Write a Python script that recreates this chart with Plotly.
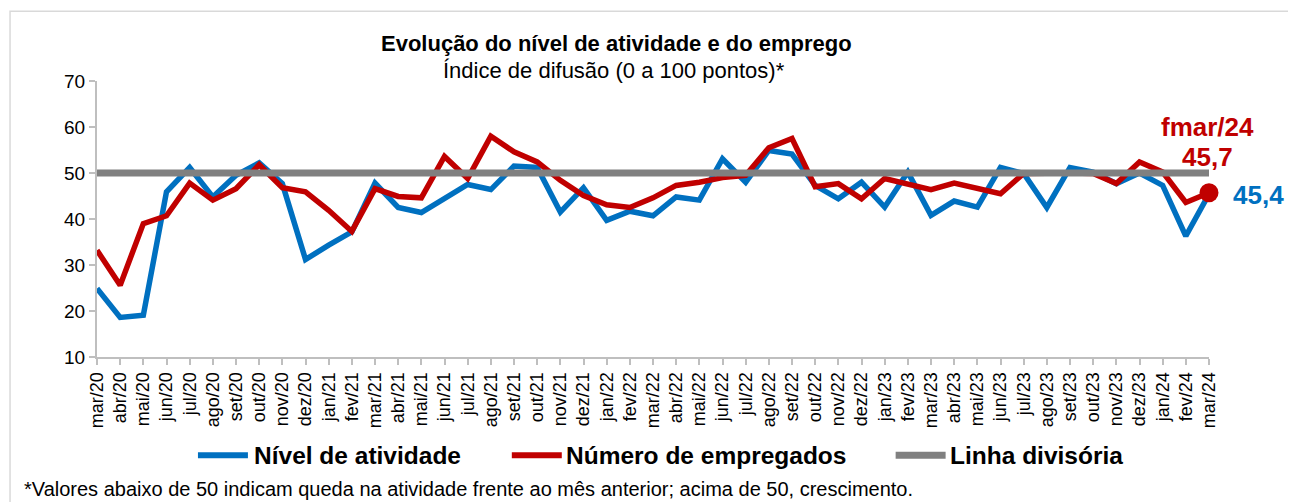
import plotly.graph_objects as go

months = ["mar/20","abr/20","mai/20","jun/20","jul/20","ago/20","set/20","out/20","nov/20","dez/20",
          "jan/21","fev/21","mar/21","abr/21","mai/21","jun/21","jul/21","ago/21","set/21","out/21","nov/21","dez/21",
          "jan/22","fev/22","mar/22","abr/22","mai/22","jun/22","jul/22","ago/22","set/22","out/22","nov/22","dez/22",
          "jan/23","fev/23","mar/23","abr/23","mai/23","jun/23","jul/23","ago/23","set/23","out/23","nov/23","dez/23",
          "jan/24","fev/24","mar/24"]

nivel_atividade = [24.9, 18.6, 19.1, 45.9, 51.2, 44.8, 49.5, 52.2, 47.7, 31.2,
                   34.3, 37.2, 47.8, 42.5, 41.4, 44.4, 47.5, 46.4, 51.5, 51.2, 41.5, 46.8,
                   39.7, 41.7, 40.7, 44.8, 44.1, 53.1, 48.0, 54.9, 54.1, 47.3, 44.4, 48.0,
                   42.6, 50.2, 40.8, 43.9, 42.6, 51.2, 49.9, 42.5, 51.2, 50.2, 47.7, 50.0,
                   47.3, 36.3, 45.4]

numero_empregados = [33.2, 25.6, 39.0, 40.7, 47.8, 44.1, 46.6, 51.8, 46.8, 45.9,
                     41.9, 37.3, 46.6, 44.9, 44.6, 53.6, 48.8, 58.0, 54.6, 52.4, 48.4, 45.1,
                     43.1, 42.5, 44.6, 47.3, 48.0, 49.0, 49.5, 55.5, 57.5, 47.0, 47.7, 44.4,
                     48.8, 47.7, 46.4, 47.8, 46.6, 45.5, 49.9, 50.0, 50.0, 49.9, 47.7, 52.4,
                     50.2, 43.6, 45.7]

linha_divisoria = [50] * len(months)

series_names = ["Nível de atividade", "Número de empregados", "Linha divisória"]

BLUE = "#0070C0"
RED = "#C00000"
GRAY = "#808080"
AXIS = "#BFBFBF"
FONT = "Liberation Sans, Arial, sans-serif"

# page has an 8px body margin; figure is offset by it
OFF = 8
W, H = 1296 - OFF, 502 - OFF
L, R, T, B = 97 - OFF, 1209.5 - OFF, 80.7 - OFF, 356.7 - OFF

def px(x):
    # x given in page pixels
    return (x - OFF - L) / (R - L)

def py(y):
    return (B - (y - OFF)) / (B - T)

fig = go.Figure()
fig.add_trace(go.Scatter(x=months, y=nivel_atividade, mode="lines", name=series_names[0],
                         line=dict(color=BLUE, width=5.5), showlegend=False))
fig.add_trace(go.Scatter(x=months, y=numero_empregados, mode="lines", name=series_names[1],
                         line=dict(color=RED, width=5.5), showlegend=False))
fig.add_trace(go.Scatter(x=months, y=linha_divisoria, mode="lines", name=series_names[2],
                         line=dict(color=GRAY, width=7), showlegend=False))
fig.add_trace(go.Scatter(x=[months[-1]], y=[numero_empregados[-1]], mode="markers", showlegend=False,
                         marker=dict(color=RED, size=19), cliponaxis=False))

def fmt(v):
    return f"{v:.1f}".replace(".", ",")

annotations = [
    dict(text="<b>Evolução do nível de atividade e do emprego</b>", x=px(617), y=py(43),
         xref="paper", yref="paper", showarrow=False, font=dict(size=22, color="black"),
         xanchor="center", yanchor="middle"),
    dict(text="Índice de difusão (0 a 100 pontos)*", x=px(614), y=py(70),
         xref="paper", yref="paper", showarrow=False, font=dict(size=22, color="black"),
         xanchor="center", yanchor="middle"),
    dict(text="<b>f" + months[-1] + "</b>", x=px(1208), y=py(127),
         xref="paper", yref="paper", showarrow=False, font=dict(size=26, color=RED),
         xanchor="center", yanchor="middle"),
    dict(text="<b>" + fmt(numero_empregados[-1]) + "</b>", x=px(1208), y=py(157),
         xref="paper", yref="paper", showarrow=False, font=dict(size=26, color=RED),
         xanchor="center", yanchor="middle"),
    dict(text="<b>" + fmt(nivel_atividade[-1]) + "</b>", x=px(1259), y=py(195),
         xref="paper", yref="paper", showarrow=False, font=dict(size=26, color=BLUE),
         xanchor="center", yanchor="middle"),
    dict(text="*Valores abaixo de 50 indicam queda na atividade frente ao mês anterior; acima de 50, crescimento.",
         x=px(22), y=py(489), xref="paper", yref="paper", showarrow=False,
         font=dict(size=20, color="black"), xanchor="left", yanchor="middle"),
]

shapes = [
    dict(type="rect", xref="paper", yref="paper", x0=px(10), x1=px(1310), y0=py(560), y1=py(11),
         line=dict(color="#D9D9D9", width=1.5), fillcolor="rgba(0,0,0,0)", layer="below"),
]

# manual legend (line sample + bold label)
legend_items = [
    (series_names[0], BLUE, 6, 198, 248, 252),
    (series_names[1], RED, 6, 512, 562, 564),
    (series_names[2], GRAY, 7, 896, 946, 948),
]
LEG_Y = 455
for name, color, lw, x0, x1, xt in legend_items:
    shapes.append(dict(type="line", xref="paper", yref="paper", x0=px(x0), x1=px(x1),
                       y0=py(LEG_Y), y1=py(LEG_Y), line=dict(color=color, width=lw)))
    annotations.append(dict(text="<b>" + name + "</b>", x=px(xt), y=py(LEG_Y), xref="paper", yref="paper",
                            showarrow=False, font=dict(size=24.5, color="black"),
                            xanchor="left", yanchor="middle"))

fig.update_layout(
    width=W, height=H,
    margin=dict(l=L, r=W - R, t=T, b=H - B, pad=0),
    paper_bgcolor="white", plot_bgcolor="white",
    font=dict(family=FONT, color="black"),
    showlegend=False,
    annotations=annotations,
    shapes=shapes,
    xaxis=dict(type="category", range=[0, len(months) - 1], showline=True, linecolor=AXIS, linewidth=2,
               ticks="outside", ticklen=6, tickcolor=AXIS, tickwidth=1.5, tickangle=-90,
               tickfont=dict(size=18, color="black"), showgrid=False, zeroline=False, fixedrange=True),
    yaxis=dict(range=[10, 70], dtick=10, showline=True, linecolor=AXIS, linewidth=2,
               ticks="outside", ticklen=6, tickcolor=AXIS, tickwidth=1.5,
               tickfont=dict(size=19, color="black"), showgrid=False, zeroline=False, fixedrange=True),
)

fig.write_html("out.html")
